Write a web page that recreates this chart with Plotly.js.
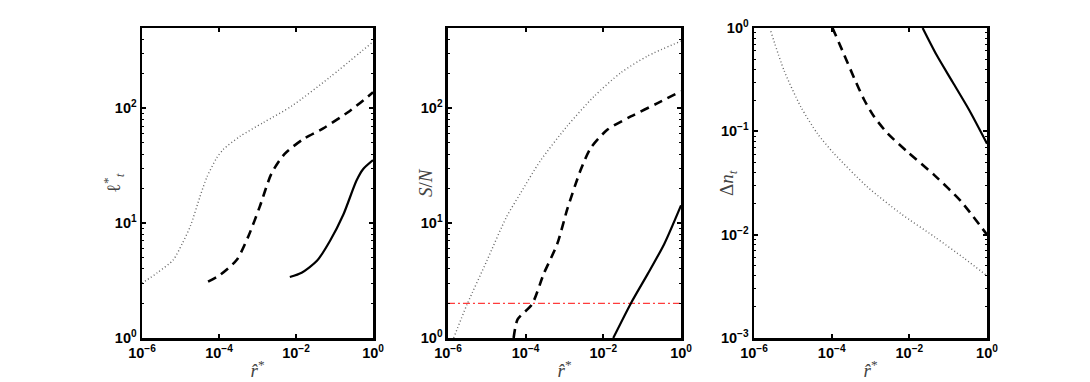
<!DOCTYPE html>
<html>
<head>
<meta charset="utf-8">
<script src="https://cdn.plot.ly/plotly-3.0.1.min.js"></script>
<style>html,body{margin:0;padding:0;background:#fff;}#chart{width:1090px;height:382px;}</style>
</head>
<body>
<div id="chart"></div>
<script>
// Shared x tick positions / labels
const xTickVals = [1e-6, 1e-4, 1e-2, 1];
const xTickText = ['10<sup>−6</sup>', '10<sup>−4</sup>', '10<sup>−2</sup>', '10<sup>0</sup>'];
const yTickVals12 = [1, 10, 100];
const yTickText12 = ['10<sup>0</sup>', '10<sup>1</sup>', '10<sup>2</sup>'];
const yTickVals3 = [1e-3, 1e-2, 1e-1, 1];
const yTickText3 = ['10<sup>−3</sup>', '10<sup>−2</sup>', '10<sup>−1</sup>', '10<sup>0</sup>'];
const yTitles = ['ℓ<sup>*</sup><sub><i>t</i></sub>', '<i>S</i>/<i>N</i>', 'Δ<i>n</i><sub><i>t</i></sub>'];
const xTitle = '<i>r̂</i><sup>*</sup>';

// Panel 1: l*_t
const p1DotX = [1e-6, 2.5e-6, 6.5e-6, 1.1e-5, 1.8e-5, 3.2e-5, 4.8e-5, 8.7e-5, 1.3e-4, 3.5e-4, 1.4e-3, 7.8e-3, 7.6e-2, 1];
const p1DotY = [3.0, 3.7, 4.8, 6.6, 9.4, 17, 25, 37, 44, 57, 75, 105, 187, 380];
const p1DashX = [5.2e-5, 1.07e-4, 2.9e-4, 5.8e-4, 1.15e-3, 2.3e-3, 5e-3, 1.55e-2, 5.1e-2, 0.25, 1];
const p1DashY = [3.1, 3.55, 4.8, 7.7, 14, 27, 40, 54, 67, 95, 138];
const p1SolidX = [6.9e-3, 1.4e-2, 3.5e-2, 7.6e-2, 0.17, 0.37, 0.55, 1];
const p1SolidY = [3.4, 3.7, 4.7, 7.0, 11.9, 23.4, 29.5, 35.4];

// Panel 2: S/N
const p2DotX = [1.4e-6, 3.1e-6, 1e-5, 3.2e-5, 7.2e-5, 2.4e-4, 1.17e-3, 5.75e-3, 2.8e-2, 0.138, 1];
const p2DotY = [1.0, 1.96, 4.7, 11.3, 18, 35, 70, 127, 204, 286, 385];
const p2DashX = [4.9e-5, 6.2e-5, 1.45e-4, 2.9e-4, 6.5e-4, 1.2e-3, 2.6e-3, 4.7e-3, 1.26e-2, 5.1e-2, 0.25, 1];
const p2DashY = [1.0, 1.45, 1.96, 3.6, 6.6, 13.5, 29, 45, 65, 85, 111, 141];
const p2SolidX = [1.8e-2, 5.1e-2, 0.138, 0.37, 1];
const p2SolidY = [1.0, 2.0, 3.6, 6.6, 14.3];
const thresholdX = [1e-6, 1];
const thresholdY = [2, 2];

// Panel 3: Delta n_t
const p3DotX = [2.7e-6, 5.9e-6, 1.6e-5, 4.3e-5, 1.15e-4, 8.3e-4, 6e-3, 4.5e-2, 0.26, 1];
const p3DotY = [0.93, 0.39, 0.173, 0.095, 0.061, 0.029, 0.016, 0.0095, 0.0059, 0.004];
const p3DashX = [1.05e-4, 2.1e-4, 3.8e-4, 6.9e-4, 1.23e-3, 2.75e-3, 8.9e-3, 4.4e-2, 0.214, 1];
const p3DashY = [1.0, 0.55, 0.327, 0.201, 0.139, 0.0955, 0.0634, 0.0377, 0.021, 0.01];
const p3SolidX = [2.2e-2, 5e-2, 0.13, 0.35, 1];
const p3SolidY = [1.0, 0.55, 0.30, 0.16, 0.076];

const dotLine = {color: '#666', width: 1.4, dash: '1px,2.5px', shape: 'spline', smoothing: 0.7};
const dashLine = {color: '#000', width: 2.6, dash: '9px,6px', shape: 'spline', smoothing: 0.7};
const solidLine = {color: '#000', width: 2.2, shape: 'spline', smoothing: 0.7};

function tr(x, y, line, xa, ya) {
  return {x: x, y: y, type: 'scatter', mode: 'lines', line: line, xaxis: xa, yaxis: ya, hoverinfo: 'skip'};
}

const data = [
  tr(p1DotX, p1DotY, dotLine, 'x', 'y'),
  tr(p1DashX, p1DashY, dashLine, 'x', 'y'),
  tr(p1SolidX, p1SolidY, solidLine, 'x', 'y'),
  tr(thresholdX, thresholdY, {color: '#ff3c3c', width: 1.3, dash: '7px,3px,2px,3px'}, 'x2', 'y2'),
  tr(p2DotX, p2DotY, dotLine, 'x2', 'y2'),
  tr(p2DashX, p2DashY, dashLine, 'x2', 'y2'),
  tr(p2SolidX, p2SolidY, solidLine, 'x2', 'y2'),
  tr(p3DotX, p3DotY, dotLine, 'x3', 'y3'),
  tr(p3DashX, p3DashY, dashLine, 'x3', 'y3'),
  tr(p3SolidX, p3SolidY, solidLine, 'x3', 'y3')
];

const tickFont = {family: 'Liberation Sans, Arial, sans-serif', size: 14.5, color: '#000', weight: 'bold'};
const titleFont = {family: 'Liberation Serif, DejaVu Serif, serif', size: 19, color: '#444'};

function xAxis(domain, anchor) {
  return {
    type: 'log', range: [-6, 0], domain: domain, anchor: anchor,
    tickvals: xTickVals, ticktext: xTickText, tickfont: tickFont,
    ticks: 'inside', ticklen: 4, tickwidth: 2, tickcolor: '#000',
    showline: true, linecolor: '#000', linewidth: 2.5, mirror: 'allticks',
    showgrid: false, zeroline: false,
    title: {text: xTitle, font: titleFont, standoff: 4}
  };
}
function yAxis(range, vals, text, anchor) {
  return {
    type: 'log', range: range, anchor: anchor,
    tickvals: vals, ticktext: text, tickfont: tickFont,
    ticks: 'inside', ticklen: 4, tickwidth: 2, tickcolor: '#000',
    minor: {ticks: 'inside', ticklen: 2, tickwidth: 1, tickcolor: '#000', dtick: 'D1', showgrid: false},
    showline: true, linecolor: '#000', linewidth: 2.5, mirror: 'allticks',
    showgrid: false, zeroline: false
  };
}

const plotLeft = 142, plotWidth = 845;
const titleCentersPx = [113, 425, 728];
const annotations = yTitles.map((t, i) => ({
  text: t, xref: 'paper', yref: 'paper',
  x: (titleCentersPx[i] - plotLeft) / plotWidth, y: 0.5,
  xanchor: 'center', yanchor: 'middle', textangle: -90,
  showarrow: false, font: titleFont
}));

const layout = {
  width: 1090, height: 382,
  margin: {l: 142, r: 103, t: 28, b: 44},
  paper_bgcolor: '#fff', plot_bgcolor: '#fff',
  showlegend: false,
  xaxis: xAxis([0, 0.2734], 'y'),
  xaxis2: xAxis([0.3621, 0.6379], 'y2'),
  xaxis3: xAxis([0.7243, 1], 'y3'),
  yaxis: yAxis([0, 2.7], yTickVals12, yTickText12, 'x'),
  yaxis2: yAxis([0, 2.7], yTickVals12, yTickText12, 'x2'),
  yaxis3: yAxis([-3, 0], yTickVals3, yTickText3, 'x3'),
  annotations: annotations
};

Plotly.newPlot('chart', data, layout, {displayModeBar: false, staticPlot: true});
</script>
</body>
</html>
